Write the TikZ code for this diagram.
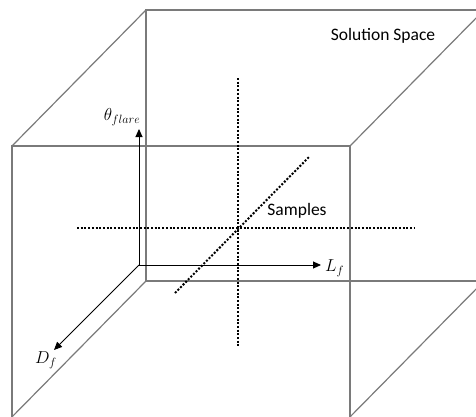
\documentclass[tikz,border=0pt]{standalone}
\usepackage{fontspec}
\newfontfamily\labfont{Carlito}
\usetikzlibrary{arrows.meta,positioning,calc}
\definecolor{edge}{HTML}{7A7A7A}
\tikzset{
  >={Triangle[length=8pt,width=7pt]},
  cube/.style={draw=edge,line width=1.2pt},
  ax/.style={->,draw=black,line width=0.9pt},
  samp/.style={draw=black,line width=2pt,dash pattern=on 2pt off 1.7pt},
  lab/.style={font=\labfont\fontsize{17.5}{20}\selectfont,inner sep=0pt},
  mlab/.style={font=\fontsize{18.5}{21}\selectfont,inner sep=0pt},
}
\begin{document}
\begin{tikzpicture}[x=1pt,y=-1pt]
\useasboundingbox (0,0) rectangle (476,416);
\clip (0,0) rectangle (476,416);
% cube corners: front face f, back face b
\coordinate (f1) at (12,146); \coordinate (f2) at (350,146);
\coordinate (f3) at (350,420); \coordinate (f4) at (12,420);
\coordinate (b1) at (146,10); \coordinate (b2) at (484,10);
\coordinate (b3) at (484,281); \coordinate (b4) at (146,281);
\draw[cube] (f1) -- (f2) -- (f3) -- (f4) -- cycle;
\draw[cube] (b1) -- (b2) -- (b3) -- (b4) -- cycle;
\draw[cube] (f1) -- (b1) (f2) -- (b2);
\draw[cube] (b4) -- ($(b4)+(-141,143)$) (b3) -- ($(b3)+(-141,143)$);
% samples
\coordinate (sv1) at (238,78); \coordinate (sv2) at (238,348);
\coordinate (sh1) at (77,228); \coordinate (sh2) at (415,228);
\coordinate (sd1) at (175,293); \coordinate (sd2) at (309,157);
\draw[samp] (sv1) -- (sv2);
\draw[samp] (sh1) -- (sh2);
\draw[samp] (sd1) -- (sd2);
% axes
\coordinate (o) at (139,265);
\coordinate (tt) at (139,129); \coordinate (tl) at (321,265); \coordinate (td) at (54,350);
\draw[ax] (o) -- (tt);
\draw[ax] (o) -- (tl);
\draw[ax] (o) -- (td);
\node[mlab] (th) at (122,117) {$\theta_{flare}$};
\node[mlab,anchor=west] (lf) at (325,268) {$L_f$};
\node[mlab] (df) at (46,360) {$D_f$};
% labels
\node[lab] (smp) at (297,211) {Samples};
\node[lab] (sol) at (383,36) {Solution Space};
\end{tikzpicture}
\end{document}
